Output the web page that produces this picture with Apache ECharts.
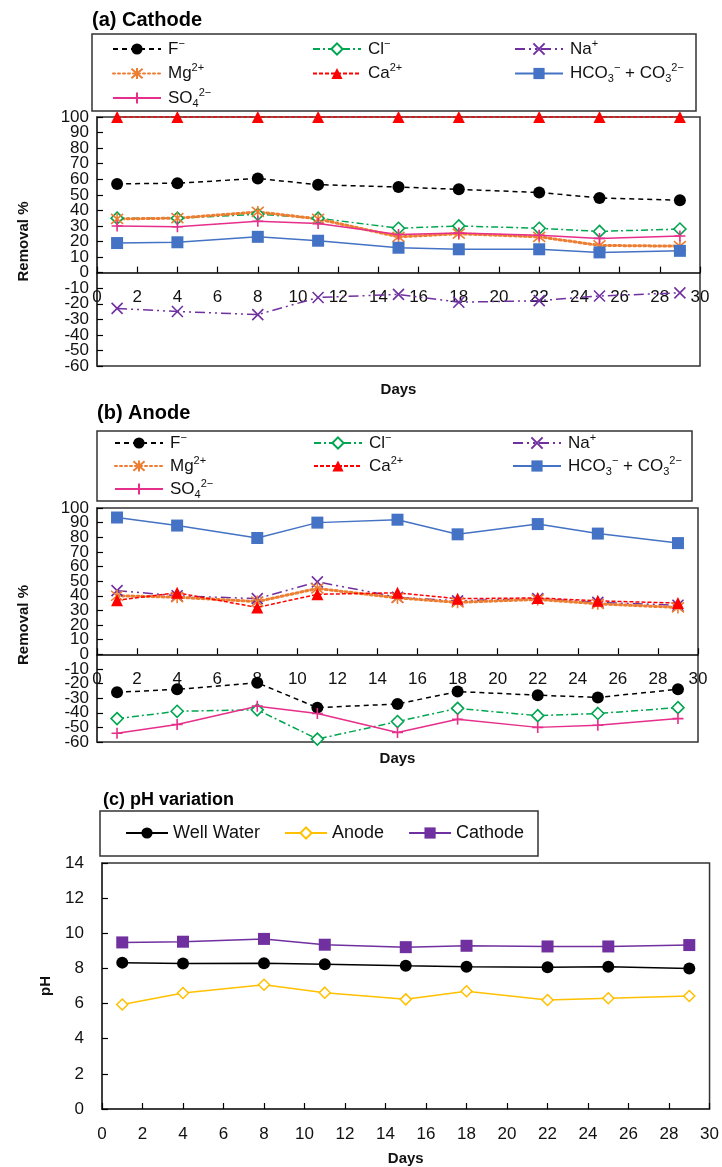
<!DOCTYPE html>
<html>
<head>
<meta charset="utf-8">
<script src="https://cdn.jsdelivr.net/npm/echarts@6/dist/echarts.min.js"></script>
<style>html,body{margin:0;padding:0;background:#fff;}#c{width:722px;height:1167px;}</style>
</head>
<body>
<div id="c"></div>
<script>
// ---------- DATA ----------
const days = [1, 4, 8, 11, 15, 18, 22, 25, 29];

const cathF    = [57, 57.5, 60.5, 56.5, 55, 53.5, 51.5, 48, 46.5];
const cathCl   = [35, 35, 37.5, 35, 28.5, 30, 28.5, 26.5, 28];
const cathNa   = [-23, -25, -27, -16, -14, -19, -18, -15, -13];
const cathMg   = [34.5, 35, 39, 34.5, 23, 25, 23, 17.5, 17];
const cathCa   = [100, 100, 100, 100, 100, 100, 100, 100, 100];
const cathHCO3 = [19, 19.5, 23, 20.5, 16, 15, 15, 13, 14];
const cathSO4  = [30, 29.5, 33, 31.5, 24.5, 25.5, 24, 22, 23.5];

const anF    = [-26, -24, -19.5, -36.5, -34, -25.5, -28, -29.5, -24];
const anCl   = [-44, -39, -38, -58, -46, -37, -42, -40.5, -36.5];
const anNa   = [43.5, 40, 38, 49.5, 39, 36.5, 38, 35.5, 33.5];
const anMg   = [40, 39, 36, 45, 38.5, 35.5, 37.5, 34.5, 32];
const anCa   = [37, 42, 32, 41, 42, 38, 38.5, 36.5, 35];
const anHCO3 = [93.5, 88, 79.5, 90, 92, 82, 89, 82.5, 76];
const anSO4  = [-54, -48, -35.5, -40.5, -53.5, -44.5, -50, -48.5, -44];

const phWell    = [8.33, 8.28, 8.29, 8.24, 8.15, 8.10, 8.07, 8.10, 8.00];
const phAnode   = [5.95, 6.60, 7.07, 6.62, 6.24, 6.70, 6.20, 6.30, 6.43];
const phCathode = [9.48, 9.52, 9.68, 9.35, 9.21, 9.29, 9.25, 9.25, 9.33];

const ionNames = ['F-', 'Cl-', 'Na+', 'Mg2+', 'Ca2+', 'HCO3-+CO32-', 'SO42-'];
const ionLabels = {
  'F-': 'F{sup|−}',
  'Cl-': 'Cl{sup|−}',
  'Na+': 'Na{sup|+}',
  'Mg2+': 'Mg{sup|2+}',
  'Ca2+': 'Ca{sup|2+}',
  'HCO3-+CO32-': 'HCO{sub|3}{sup|−} + CO{sub|3}{sup|2−}',
  'SO42-': 'SO{sub|4}{sup|2−}'
};
const pHNames = ['Well Water', 'Anode', 'Cathode'];
const xTicks = { min: 0, max: 30, interval: 2 };
const yRemoval = { min: -60, max: 100, interval: 10 };
const yPH = { min: 0, max: 14, interval: 2 };

// ---------- STYLES ----------
const FONT = 'Liberation Sans, Arial, sans-serif';
const pair = arr => days.map((d, i) => [d, arr[i]]);
const X_PATH = 'path://M0,0L10,10M10,0L0,10';
const STAR_PATH = 'path://M0,0L10,10M10,0L0,10M5,-1L5,11';
const PLUS_PATH = 'path://M5,0L5,10M0,5L10,5';

const ionStyle = {
  'F-':   { color: '#000', dash: [5, 4], width: 1.5, symbol: 'circle', size: 12, fill: '#000' },
  'Cl-':  { color: '#00a651', dash: [7, 3, 2, 3], width: 1.5, symbol: 'diamond', size: 12, fill: '#fff', border: 1.6 },
  'Na+':  { color: '#7030a0', dash: [10, 4, 2, 4, 2, 4], width: 1.5, symbol: X_PATH, size: 11, fill: 'none', border: 1.6 },
  'Mg2+': { color: '#ed7d31', dash: [2, 3], width: 3, symbol: STAR_PATH, size: 12, fill: 'none', border: 1.6 },
  'Ca2+': { color: '#ff0000', dash: [4, 2], width: 1.5, symbol: 'triangle', size: 12, fill: '#ff0000' },
  'HCO3-+CO32-': { color: '#4472c4', dash: 'solid', width: 1.5, symbol: 'rect', size: 12, fill: '#4472c4' },
  'SO42-': { color: '#e62e8b', dash: 'solid', width: 1.5, symbol: PLUS_PATH, size: 11, fill: 'none', border: 1.6 }
};

function ionSeries(name, data, gi) {
  const s = ionStyle[name];
  const item = { color: s.fill };
  if (s.border) { item.borderColor = s.color; item.borderWidth = s.border; }
  return {
    type: 'line', name: name, xAxisIndex: gi, yAxisIndex: gi,
    data: pair(data), clip: false, animation: false,
    symbol: s.symbol, symbolSize: s.size, showAllSymbol: true,
    lineStyle: { color: s.color, width: s.width, type: s.dash, cap: s.dash[0] === 2 ? 'round' : 'butt' },
    itemStyle: item,
    emphasis: { disabled: true }
  };
}

const cathData = { 'F-': cathF, 'Cl-': cathCl, 'Na+': cathNa, 'Mg2+': cathMg, 'Ca2+': cathCa, 'HCO3-+CO32-': cathHCO3, 'SO42-': cathSO4 };
const anData = { 'F-': anF, 'Cl-': anCl, 'Na+': anNa, 'Mg2+': anMg, 'Ca2+': anCa, 'HCO3-+CO32-': anHCO3, 'SO42-': anSO4 };

const richLegend = {
  sup: { fontSize: 11, lineHeight: 11, verticalAlign: 'top', fontFamily: FONT, color: '#111' },
  sub: { fontSize: 11, lineHeight: 11, verticalAlign: 'bottom', fontFamily: FONT, color: '#111' }
};

function ionLegend(names, left, top, gap) {
  return {
    orient: 'vertical', left: left, top: top, padding: 0,
    itemWidth: 48, itemHeight: 14, itemGap: gap,
    data: names, selectedMode: false,
    formatter: n => ionLabels[n],
    textStyle: { fontSize: 17, lineHeight: 22, fontFamily: FONT, color: '#111', padding: [0, 0, 0, 2], rich: richLegend }
  };
}

const gridA = { left: 97, top: 117, width: 603, height: 249 };
const gridB = { left: 97, top: 508, width: 601, height: 234 };
const gridC = { left: 102, top: 863, width: 609, height: 246 };
const gridCommon = { show: true, borderColor: '#333', borderWidth: 1.5, backgroundColor: 'transparent' };

function xAxisRemoval(gi, labelMargin, gap) {
  return {
    type: 'value', gridIndex: gi, min: xTicks.min, max: xTicks.max, interval: xTicks.interval,
    axisLine: { show: true, onZero: true, lineStyle: { color: '#000', width: 1.5 } },
    axisTick: { show: true, inside: true, length: 6, lineStyle: { color: '#000', width: 1.2 } },
    axisLabel: { margin: labelMargin, fontSize: 17, fontFamily: FONT, color: '#111', showMinLabel: true, showMaxLabel: true, hideOverlap: false },
    splitLine: { show: false },
    name: 'Days', nameLocation: 'middle', nameGap: gap,
    nameTextStyle: { fontSize: 15, fontWeight: 'bold', fontFamily: FONT, color: '#111' }
  };
}
// Two label layers on the same scale (even / odd tens) so that the tightly packed
// labels are all kept, as in the original figure.
function yAxisRemoval(gi, even) {
  const ax = {
    type: 'value', gridIndex: gi, position: 'left', offset: 0,
    min: yRemoval.min, max: yRemoval.max, interval: yRemoval.interval,
    axisLine: { show: even, onZero: false, lineStyle: { color: '#333', width: 1.5 } },
    axisTick: { show: even, inside: true, length: 6, lineStyle: { color: '#000', width: 1.2 } },
    axisLabel: {
      margin: 8, fontSize: 17, fontFamily: FONT, color: '#111',
      showMinLabel: true, showMaxLabel: true, hideOverlap: false,
      formatter: v => ((Math.abs(v) % 20 === 0) === even ? String(v) : '')
    },
    splitLine: { show: false }
  };
  if (even) {
    ax.name = 'Removal %'; ax.nameLocation = 'middle'; ax.nameGap = 66; ax.nameRotate = 90;
    ax.nameTextStyle = { fontSize: 15, fontWeight: 'bold', fontFamily: FONT, color: '#111' };
  }
  return ax;
}

const series = [];
ionNames.forEach(n => series.push(ionSeries(n, cathData[n], 0)));
ionNames.forEach(n => series.push(ionSeries(n, anData[n], 1)));

const phStyle = {
  'Well Water': { color: '#000', symbol: 'circle', size: 12, fill: '#000' },
  'Anode': { color: '#ffc000', symbol: 'diamond', size: 11, fill: '#fff', border: 1.5 },
  'Cathode': { color: '#7030a0', symbol: 'rect', size: 12, fill: '#7030a0' }
};
const phData = { 'Well Water': phWell, 'Anode': phAnode, 'Cathode': phCathode };
pHNames.forEach(n => {
  const s = phStyle[n];
  const item = { color: s.fill };
  if (s.border) { item.borderColor = s.color; item.borderWidth = s.border; }
  series.push({
    type: 'line', name: n, xAxisIndex: 2, yAxisIndex: 2, data: pair(phData[n]),
    clip: false, animation: false, symbol: s.symbol, symbolSize: s.size,
    lineStyle: { color: s.color, width: 1.5 }, itemStyle: item, emphasis: { disabled: true }
  });
});

const titleRich = (sz) => ({
  n: { fontSize: sz, fontFamily: FONT, color: '#000' },
  b: { fontSize: sz, fontWeight: 'bold', fontFamily: FONT, color: '#000' }
});

const option = {
  backgroundColor: '#fff',
  animation: false,
  title: [
    { text: '{n|(a) }{b|Cathode}', left: 92, top: 10, padding: 0, textStyle: { rich: titleRich(20) } },
    { text: '{n|(b) }{b|Anode}', left: 97, top: 403, padding: 0, textStyle: { rich: titleRich(20) } },
    { text: '{n|(c) }{b|pH variation}', left: 103, top: 791, padding: 0, textStyle: { rich: titleRich(18) } }
  ],
  graphic: [
    { type: 'rect', shape: { x: 92, y: 34, width: 604, height: 77 }, style: { fill: 'none', stroke: '#333', lineWidth: 1.5 }, silent: true },
    { type: 'rect', shape: { x: 97, y: 431, width: 595, height: 70 }, style: { fill: 'none', stroke: '#333', lineWidth: 1.5 }, silent: true },
    { type: 'rect', shape: { x: 100, y: 811, width: 438, height: 45 }, style: { fill: 'none', stroke: '#333', lineWidth: 1.5 }, silent: true }
  ],
  legend: [
    ionLegend(['F-', 'Mg2+', 'SO42-'], 112, 38, 2.5),
    ionLegend(['Cl-', 'Ca2+'], 312, 38, 2.5),
    ionLegend(['Na+', 'HCO3-+CO32-'], 514, 38, 2.5),
    ionLegend(['F-', 'Mg2+', 'SO42-'], 114, 432, 1),
    ionLegend(['Cl-', 'Ca2+'], 313, 432, 1),
    ionLegend(['Na+', 'HCO3-+CO32-'], 512, 432, 1),
    {
      orient: 'horizontal', left: 125, top: 824, padding: 0,
      itemWidth: 42, itemHeight: 14, itemGap: 24, selectedMode: false,
      data: pHNames,
      textStyle: { fontSize: 18, fontFamily: FONT, color: '#111', padding: [0, 0, 0, 0] }
    }
  ],
  grid: [Object.assign({}, gridCommon, gridA), Object.assign({}, gridCommon, gridB), Object.assign({}, gridCommon, gridC)],
  xAxis: [
    xAxisRemoval(0, -77, 16),
    xAxisRemoval(1, -71, 9),
    {
      type: 'value', gridIndex: 2, min: xTicks.min, max: xTicks.max, interval: xTicks.interval,
      axisLine: { show: true, lineStyle: { color: '#333', width: 1.5 } },
      axisTick: { show: true, inside: true, length: 6, lineStyle: { color: '#000', width: 1.2 } },
      axisLabel: { margin: 17, fontSize: 17, fontFamily: FONT, color: '#111' },
      splitLine: { show: false },
      name: 'Days', nameLocation: 'middle', nameGap: 42,
      nameTextStyle: { fontSize: 15, fontWeight: 'bold', fontFamily: FONT, color: '#111' }
    }
  ],
  yAxis: [
    yAxisRemoval(0, true),
    yAxisRemoval(1, true),
    {
      type: 'value', gridIndex: 2, min: yPH.min, max: yPH.max, interval: yPH.interval,
      axisLine: { show: true, lineStyle: { color: '#333', width: 1.5 } },
      axisTick: { show: true, inside: true, length: 6, lineStyle: { color: '#000', width: 1.2 } },
      axisLabel: { margin: 18, fontSize: 17, fontFamily: FONT, color: '#111' },
      splitLine: { show: false },
      name: 'pH', nameLocation: 'middle', nameGap: 49, nameRotate: 90,
      nameTextStyle: { fontSize: 15, fontWeight: 'bold', fontFamily: FONT, color: '#111' }
    },
    yAxisRemoval(0, false),
    yAxisRemoval(1, false)
  ],
  series: series
};

const chart = echarts.init(document.getElementById('c'), null, { renderer: 'canvas', width: 722, height: 1167 });
chart.setOption(option);
</script>
</body>
</html>
